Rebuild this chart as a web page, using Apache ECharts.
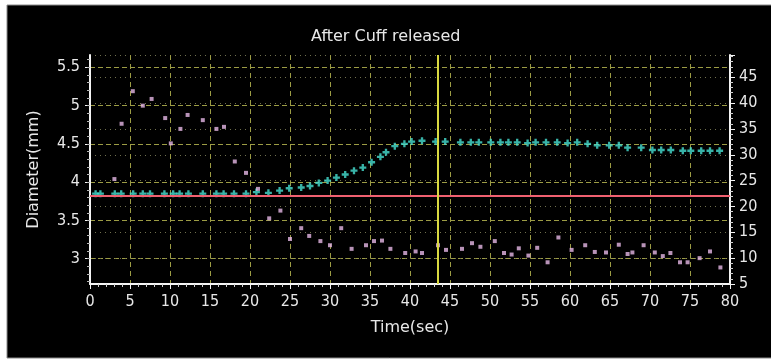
<!DOCTYPE html>
<html>
<head>
<meta charset="utf-8">
<script src="https://cdn.jsdelivr.net/npm/echarts@6/dist/echarts.min.js"></script>
<style>
  html, body { margin: 0; padding: 0; background: #fff; }
  #chartmain { width: 771px; height: 360px; }
</style>
</head>
<body>
<div id="chartmain"></div>
<script>
// diameter (cyan +), left axis, mm
var diamTime = [0.7, 1.3, 3.1, 3.9, 5.4, 6.6, 7.5, 9.3, 10.4, 11.2, 12.3, 14.1, 15.8, 16.7, 18.0, 19.5,
  20.8, 22.3, 23.7, 24.9, 26.4, 27.5, 28.6, 29.7, 30.8, 31.9, 33.0, 34.1, 35.2, 36.3, 37.0, 38.1, 39.3,
  40.2, 41.5, 43.2, 44.4, 46.3, 47.6, 48.6, 50.1, 51.3, 52.3, 53.4, 54.7, 55.7, 57.0, 58.4, 59.7, 60.9,
  62.2, 63.4, 64.9, 66.1, 67.2, 68.9, 70.3, 71.4, 72.6, 74.1, 75.1, 76.4, 77.5, 78.7];
var diamValue = [3.85, 3.85, 3.85, 3.85, 3.85, 3.85, 3.85, 3.85, 3.85, 3.85, 3.85, 3.85, 3.85, 3.85, 3.85, 3.85,
  3.87, 3.86, 3.89, 3.92, 3.93, 3.95, 3.99, 4.02, 4.06, 4.10, 4.15, 4.19, 4.26, 4.33, 4.39, 4.47, 4.50,
  4.53, 4.54, 4.53, 4.53, 4.52, 4.52, 4.52, 4.52, 4.52, 4.52, 4.52, 4.51, 4.52, 4.52, 4.52, 4.51, 4.52,
  4.50, 4.48, 4.48, 4.48, 4.45, 4.45, 4.42, 4.42, 4.42, 4.41, 4.41, 4.41, 4.41, 4.41];

// pink squares, right axis
var pinkTime = [3.05, 3.95, 5.35, 6.6, 7.7, 9.4, 10.1, 11.3, 12.2, 14.1, 15.8, 16.75, 18.1, 19.5, 21.0,
  22.4, 23.8, 25.0, 26.4, 27.4, 28.8, 30.0, 31.4, 32.7, 34.5, 35.5, 36.5, 37.55, 39.4, 40.7, 41.5, 43.5,
  44.5, 46.5, 47.75, 48.8, 50.6, 51.75, 52.7, 53.6, 54.8, 55.9, 57.2, 58.55, 60.2, 61.9, 63.1, 64.5,
  66.1, 67.2, 67.8, 69.2, 70.6, 71.6, 72.55, 73.75, 74.7, 76.2, 77.5, 78.8];
var pinkValue = [25.3, 36.0, 42.3, 39.5, 40.8, 37.1, 32.2, 35.0, 37.7, 36.7, 35.0, 35.4, 28.7, 26.5, 23.4,
  17.7, 19.2, 13.7, 15.8, 14.3, 13.3, 12.5, 15.8, 11.8, 12.5, 13.3, 13.4, 11.8, 11.0, 11.3, 11.0, 12.5,
  11.6, 11.8, 12.9, 12.2, 13.3, 11.0, 10.7, 11.9, 10.5, 12.0, 9.2, 14.0, 11.6, 12.5, 11.2, 11.1,
  12.6, 10.8, 11.1, 12.5, 11.1, 10.4, 11.0, 9.2, 9.2, 10.0, 11.3, 8.2];

var diamTicks = [3, 3.5, 4, 4.5, 5, 5.5];
var baseline = 3.82;      // red line
var cuffRelease = 43.5;   // yellow line

var diamMinor = [];
for (var k = 27; k <= 56; k++) diamMinor.push(k / 10);

function pairs(xs, ys) {
  return xs.map(function (x, i) { return [x, ys[i]]; });
}

var labelFont = "'DejaVu Sans Condensed', 'Liberation Sans Narrow', 'DejaVu Sans', sans-serif";
var gridDash = '#9c9c44';

var myChart = echarts.init(document.getElementById('chartmain'));
myChart.setOption({
  backgroundColor: '#fff',
  animation: false,
  graphic: [{
    type: 'rect', z: -10, silent: true,
    shape: { x: 7, y: 5, width: 770, height: 353 },
    style: { fill: '#000', stroke: '#8a8a8a', lineWidth: 1 }
  }],
  title: {
    text: 'After Cuff released',
    left: 306, top: 24,
    textStyle: { color: '#e8e8e8', fontSize: 16, fontWeight: 'normal', fontFamily: 'DejaVu Sans' }
  },
  grid: { left: 90, right: 41, top: 55, height: 229, outerBoundsMode: 'none' },
  xAxis: {
    type: 'value', min: 0, max: 80, interval: 5,
    name: 'Time(sec)', nameLocation: 'middle', nameGap: 36,
    nameTextStyle: { color: '#e8e8e8', fontSize: 16, fontFamily: 'DejaVu Sans' },
    axisLine: { onZero: false, lineStyle: { color: '#f4f4f4', width: 2 } },
    axisTick: { length: 5, lineStyle: { color: '#f4f4f4' } },
    minorTick: { show: true, splitNumber: 5, length: 3, lineStyle: { color: '#d0d0d0' } },
    axisLabel: { color: '#e8e8e8', fontSize: 16, fontFamily: labelFont, margin: 10 },
    splitLine: { show: true, lineStyle: { color: gridDash, type: [5, 4], width: 1 } }
  },
  yAxis: [{
    type: 'value', min: 2.67, max: 5.66, position: 'left',
    name: 'Diameter(mm)', nameLocation: 'middle', nameGap: 48,
    nameTextStyle: { color: '#e8e8e8', fontSize: 16, fontFamily: 'DejaVu Sans' },
    axisLine: { show: true, lineStyle: { color: '#f4f4f4', width: 2 } },
    axisTick: { show: true, length: 5, customValues: diamTicks, lineStyle: { color: '#f4f4f4' } },
    axisLabel: { color: '#e8e8e8', fontSize: 16, fontFamily: labelFont, margin: 10, customValues: diamTicks },
    splitLine: { show: true, lineStyle: { color: gridDash, type: [5, 3], width: 1 } }
  }, {
    type: 'value', min: 5, max: 49.3, interval: 5, position: 'right',
    axisLine: { show: true, lineStyle: { color: '#f4f4f4', width: 2 } },
    axisTick: { show: true, length: 5, lineStyle: { color: '#f4f4f4' } },
    minorTick: { show: true, splitNumber: 5, length: 3, lineStyle: { color: '#d0d0d0' } },
    axisLabel: { color: '#e8e8e8', fontSize: 16, fontFamily: labelFont, margin: 9, showMaxLabel: false },
    splitLine: { show: true, lineStyle: { color: '#70704e', type: [1, 4], width: 1 } }
  }, {
    type: 'value', min: 2.67, max: 5.66, position: 'left',
    axisLine: { show: false },
    axisTick: { show: true, length: 3, customValues: diamMinor, lineStyle: { color: '#b8b8b8' } },
    axisLabel: { show: false },
    splitLine: { show: false }
  }],
  series: [{
    name: 'Diameter',
    type: 'scatter',
    yAxisIndex: 0,
    symbol: 'path://M2,0H4V2H6V4H4V6H2V4H0V2H2Z',
    symbolSize: 7,
    itemStyle: { color: '#46e0d2' },
    data: pairs(diamTime, diamValue),
    markLine: {
      silent: true, symbol: 'none', animation: false,
      label: { show: false },
      data: [
        { yAxis: baseline, lineStyle: { color: '#f06070', width: 2, type: 'solid' } },
        { xAxis: cuffRelease, lineStyle: { color: '#d8d840', width: 2, type: 'solid' } }
      ]
    }
  }, {
    name: 'Velocity',
    type: 'scatter',
    yAxisIndex: 1,
    symbol: 'rect',
    symbolSize: 4,
    itemStyle: { color: '#e6b8e6' },
    data: pairs(pinkTime, pinkValue)
  }]
});
</script>
</body>
</html>
